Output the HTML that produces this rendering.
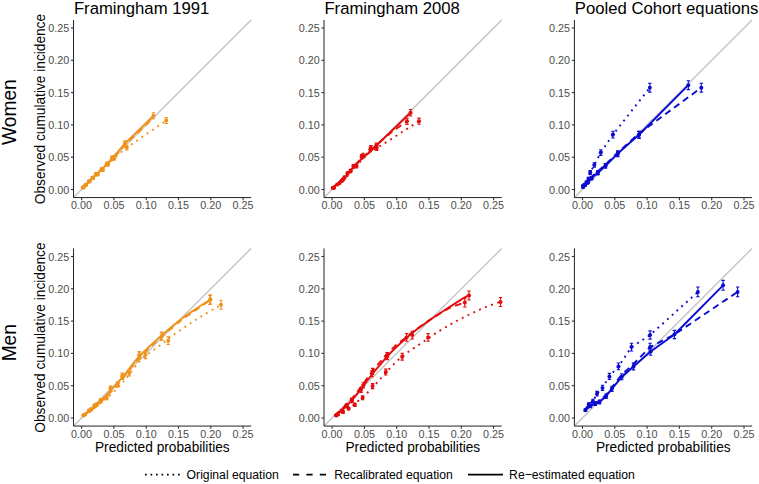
<!DOCTYPE html><html><head><meta charset="utf-8"><style>html,body{margin:0;padding:0;background:#fff;}svg{display:block;}text{font-family:"Liberation Sans",sans-serif;}</style></head><body><svg width="759" height="484" viewBox="0 0 759 484"><rect width="759" height="484" fill="#fff"/><line x1="73.52" y1="197.57" x2="251.17" y2="19.92" stroke="#c2c2c2" stroke-width="1.3"/><path d="M83.54 187.56 L86.12 184.98 L89.67 181.43 L93.23 177.87 L97.75 174.32 L102.92 169.47 L108.09 164.18 L114.22 158.17 L126.82 147.51 L166.23 120.57" fill="none" stroke="#F0931E" stroke-width="1.9" stroke-dasharray="1.9 4.5" stroke-linejoin="round"/><path d="M82.89 187.56 L85.48 184.98 L89.03 181.43 L92.58 177.87 L96.07 174.32 L101.63 169.47 L106.79 164.18 L112.72 159.07 L125.38 144.86 L153.48 117.73" fill="none" stroke="#F0931E" stroke-width="1.9" stroke-dasharray="6.5 4.5" stroke-linejoin="round"/><path d="M82.89 187.56 L85.48 184.98 L89.03 181.43 L92.58 177.87 L96.07 174.32 L101.63 169.47 L106.79 164.18 L112.22 158.17 L125.27 143.12 L153.50 115.79" fill="none" stroke="#F0931E" stroke-width="1.9" stroke-linejoin="round"/><path d="M83.54 187.05V188.08M81.84 187.05H85.24M81.84 188.08H85.24" stroke="#F0931E" stroke-width="1.1" fill="none"/><circle cx="83.54" cy="187.56" r="2.0" fill="#F0931E"/><path d="M86.12 184.19V185.76M84.42 184.19H87.82M84.42 185.76H87.82" stroke="#F0931E" stroke-width="1.1" fill="none"/><circle cx="86.12" cy="184.98" r="2.0" fill="#F0931E"/><path d="M89.67 180.38V182.47M87.97 180.38H91.38M87.97 182.47H91.38" stroke="#F0931E" stroke-width="1.1" fill="none"/><circle cx="89.67" cy="181.43" r="2.0" fill="#F0931E"/><path d="M93.23 176.62V179.13M91.53 176.62H94.93M91.53 179.13H94.93" stroke="#F0931E" stroke-width="1.1" fill="none"/><circle cx="93.23" cy="177.87" r="2.0" fill="#F0931E"/><path d="M97.75 172.89V175.75M96.05 172.89H99.45M96.05 175.75H99.45" stroke="#F0931E" stroke-width="1.1" fill="none"/><circle cx="97.75" cy="174.32" r="2.0" fill="#F0931E"/><path d="M102.92 167.84V171.11M101.22 167.84H104.62M101.22 171.11H104.62" stroke="#F0931E" stroke-width="1.1" fill="none"/><circle cx="102.92" cy="169.47" r="2.0" fill="#F0931E"/><path d="M108.09 162.35V166.01M106.39 162.35H109.79M106.39 166.01H109.79" stroke="#F0931E" stroke-width="1.1" fill="none"/><circle cx="108.09" cy="164.18" r="2.0" fill="#F0931E"/><path d="M114.22 156.14V160.2M112.52 156.14H115.92M112.52 160.2H115.92" stroke="#F0931E" stroke-width="1.1" fill="none"/><circle cx="114.22" cy="158.17" r="2.0" fill="#F0931E"/><path d="M126.82 145.18V149.84M125.12 145.18H128.52M125.12 149.84H128.52" stroke="#F0931E" stroke-width="1.1" fill="none"/><circle cx="126.82" cy="147.51" r="2.0" fill="#F0931E"/><path d="M166.23 117.66V123.49M164.53 117.66H167.93M164.53 123.49H167.93" stroke="#F0931E" stroke-width="1.1" fill="none"/><circle cx="166.23" cy="120.57" r="2.0" fill="#F0931E"/><path d="M82.89 187.05V188.08M81.19 187.05H84.59M81.19 188.08H84.59" stroke="#F0931E" stroke-width="1.1" fill="none"/><circle cx="82.89" cy="187.56" r="2.0" fill="#F0931E"/><path d="M85.48 184.19V185.76M83.78 184.19H87.18M83.78 185.76H87.18" stroke="#F0931E" stroke-width="1.1" fill="none"/><circle cx="85.48" cy="184.98" r="2.0" fill="#F0931E"/><path d="M89.03 180.38V182.47M87.33 180.38H90.73M87.33 182.47H90.73" stroke="#F0931E" stroke-width="1.1" fill="none"/><circle cx="89.03" cy="181.43" r="2.0" fill="#F0931E"/><path d="M92.58 176.62V179.13M90.88 176.62H94.28M90.88 179.13H94.28" stroke="#F0931E" stroke-width="1.1" fill="none"/><circle cx="92.58" cy="177.87" r="2.0" fill="#F0931E"/><path d="M96.07 172.89V175.75M94.37 172.89H97.77M94.37 175.75H97.77" stroke="#F0931E" stroke-width="1.1" fill="none"/><circle cx="96.07" cy="174.32" r="2.0" fill="#F0931E"/><path d="M101.63 167.84V171.11M99.93 167.84H103.33M99.93 171.11H103.33" stroke="#F0931E" stroke-width="1.1" fill="none"/><circle cx="101.63" cy="169.47" r="2.0" fill="#F0931E"/><path d="M106.79 162.35V166.01M105.09 162.35H108.49M105.09 166.01H108.49" stroke="#F0931E" stroke-width="1.1" fill="none"/><circle cx="106.79" cy="164.18" r="2.0" fill="#F0931E"/><path d="M112.22 156.14V160.2M110.52 156.14H113.92M110.52 160.2H113.92" stroke="#F0931E" stroke-width="1.1" fill="none"/><circle cx="112.22" cy="158.17" r="2.0" fill="#F0931E"/><path d="M124.88 141.54V146.37M123.18 141.54H126.58M123.18 146.37H126.58" stroke="#F0931E" stroke-width="1.1" fill="none"/><circle cx="124.88" cy="143.96" r="2.0" fill="#F0931E"/><path d="M82.89 187.05V188.08M81.19 187.05H84.59M81.19 188.08H84.59" stroke="#F0931E" stroke-width="1.1" fill="none"/><circle cx="82.89" cy="187.56" r="2.0" fill="#F0931E"/><path d="M85.48 184.19V185.76M83.78 184.19H87.18M83.78 185.76H87.18" stroke="#F0931E" stroke-width="1.1" fill="none"/><circle cx="85.48" cy="184.98" r="2.0" fill="#F0931E"/><path d="M89.03 180.38V182.47M87.33 180.38H90.73M87.33 182.47H90.73" stroke="#F0931E" stroke-width="1.1" fill="none"/><circle cx="89.03" cy="181.43" r="2.0" fill="#F0931E"/><path d="M92.58 176.62V179.13M90.88 176.62H94.28M90.88 179.13H94.28" stroke="#F0931E" stroke-width="1.1" fill="none"/><circle cx="92.58" cy="177.87" r="2.0" fill="#F0931E"/><path d="M96.07 172.89V175.75M94.37 172.89H97.77M94.37 175.75H97.77" stroke="#F0931E" stroke-width="1.1" fill="none"/><circle cx="96.07" cy="174.32" r="2.0" fill="#F0931E"/><path d="M101.63 167.84V171.11M99.93 167.84H103.33M99.93 171.11H103.33" stroke="#F0931E" stroke-width="1.1" fill="none"/><circle cx="101.63" cy="169.47" r="2.0" fill="#F0931E"/><path d="M106.79 162.35V166.01M105.09 162.35H108.49M105.09 166.01H108.49" stroke="#F0931E" stroke-width="1.1" fill="none"/><circle cx="106.79" cy="164.18" r="2.0" fill="#F0931E"/><path d="M112.22 156.14V160.2M110.52 156.14H113.92M110.52 160.2H113.92" stroke="#F0931E" stroke-width="1.1" fill="none"/><circle cx="112.22" cy="158.17" r="2.0" fill="#F0931E"/><path d="M125.27 140.68V145.55M123.57 140.68H126.97M123.57 145.55H126.97" stroke="#F0931E" stroke-width="1.1" fill="none"/><circle cx="125.27" cy="143.12" r="2.0" fill="#F0931E"/><path d="M153.5 112.79V118.79M151.8 112.79H155.2M151.8 118.79H155.2" stroke="#F0931E" stroke-width="1.1" fill="none"/><circle cx="153.5" cy="115.79" r="2.0" fill="#F0931E"/><path d="M73.52 19.92V197.57H251.17" stroke="#222" stroke-width="1.0" fill="none"/><line x1="81.6" y1="197.57" x2="81.6" y2="200.17" stroke="#333" stroke-width="1.1"/><line x1="70.92" y1="189.5" x2="73.52" y2="189.5" stroke="#333" stroke-width="1.1"/><text transform="translate(81.6 209.17) scale(1 1.04)" font-size="10.8" fill="#4d4d4d" text-anchor="middle">0.00</text><text transform="translate(69.22 193.56) scale(1 1.04)" font-size="10.8" fill="#4d4d4d" text-anchor="end">0.00</text><line x1="113.9" y1="197.57" x2="113.9" y2="200.17" stroke="#333" stroke-width="1.1"/><line x1="70.92" y1="157.2" x2="73.52" y2="157.2" stroke="#333" stroke-width="1.1"/><text transform="translate(113.9 209.17) scale(1 1.04)" font-size="10.8" fill="#4d4d4d" text-anchor="middle">0.05</text><text transform="translate(69.22 161.26) scale(1 1.04)" font-size="10.8" fill="#4d4d4d" text-anchor="end">0.05</text><line x1="146.2" y1="197.57" x2="146.2" y2="200.17" stroke="#333" stroke-width="1.1"/><line x1="70.92" y1="124.9" x2="73.52" y2="124.9" stroke="#333" stroke-width="1.1"/><text transform="translate(146.2 209.17) scale(1 1.04)" font-size="10.8" fill="#4d4d4d" text-anchor="middle">0.10</text><text transform="translate(69.22 128.96) scale(1 1.04)" font-size="10.8" fill="#4d4d4d" text-anchor="end">0.10</text><line x1="178.5" y1="197.57" x2="178.5" y2="200.17" stroke="#333" stroke-width="1.1"/><line x1="70.92" y1="92.6" x2="73.52" y2="92.6" stroke="#333" stroke-width="1.1"/><text transform="translate(178.5 209.17) scale(1 1.04)" font-size="10.8" fill="#4d4d4d" text-anchor="middle">0.15</text><text transform="translate(69.22 96.66) scale(1 1.04)" font-size="10.8" fill="#4d4d4d" text-anchor="end">0.15</text><line x1="210.8" y1="197.57" x2="210.8" y2="200.17" stroke="#333" stroke-width="1.1"/><line x1="70.92" y1="60.3" x2="73.52" y2="60.3" stroke="#333" stroke-width="1.1"/><text transform="translate(210.8 209.17) scale(1 1.04)" font-size="10.8" fill="#4d4d4d" text-anchor="middle">0.20</text><text transform="translate(69.22 64.36) scale(1 1.04)" font-size="10.8" fill="#4d4d4d" text-anchor="end">0.20</text><line x1="243.1" y1="197.57" x2="243.1" y2="200.17" stroke="#333" stroke-width="1.1"/><line x1="70.92" y1="28" x2="73.52" y2="28" stroke="#333" stroke-width="1.1"/><text transform="translate(243.1 209.17) scale(1 1.04)" font-size="10.8" fill="#4d4d4d" text-anchor="middle">0.25</text><text transform="translate(69.22 32.06) scale(1 1.04)" font-size="10.8" fill="#4d4d4d" text-anchor="end">0.25</text><text transform="translate(73.92 13.8) scale(1 1.04)" font-size="16.7" fill="#000">Framingham 1991</text><text transform="translate(44.8 109.05) rotate(-90) scale(1 1.04)" font-size="13.7" fill="#000" text-anchor="middle">Observed cumulative incidence</text><line x1="324.03" y1="197.57" x2="501.68" y2="19.92" stroke="#c2c2c2" stroke-width="1.3"/><path d="M332.00 188.80 L337.90 184.60 L342.60 181.20 L348.50 175.00 L354.40 168.00 L361.80 159.80 L370.00 151.80 L376.80 148.00 L383.50 144.00 L419.00 121.20" fill="none" stroke="#E30B0B" stroke-width="1.9" stroke-dasharray="1.9 4.5" stroke-linejoin="round"/><path d="M331.50 188.60 L337.40 183.80 L347.50 173.80 L353.40 166.80 L360.40 159.30 L368.30 152.40 L377.00 144.60 L386.00 136.60 L394.10 130.20 L407.00 121.30" fill="none" stroke="#E30B0B" stroke-width="1.9" stroke-dasharray="6.5 4.5" stroke-linejoin="round"/><path d="M331.50 189.00 L334.50 186.60 L337.40 184.20 L341.60 180.60 L347.50 174.30 L353.40 167.40 L360.40 159.90 L368.30 153.20 L410.60 112.80" fill="none" stroke="#E30B0B" stroke-width="1.9" stroke-linejoin="round"/><path d="M334 187.52V188.48M332.3 187.52H335.7M332.3 188.48H335.7" stroke="#E30B0B" stroke-width="1.1" fill="none"/><circle cx="334" cy="188" r="2.0" fill="#E30B0B"/><path d="M343 178.26V180.74M341.3 178.26H344.7M341.3 180.74H344.7" stroke="#E30B0B" stroke-width="1.1" fill="none"/><circle cx="343" cy="179.5" r="2.0" fill="#E30B0B"/><path d="M356.5 164.13V167.87M354.8 164.13H358.2M354.8 167.87H358.2" stroke="#E30B0B" stroke-width="1.1" fill="none"/><circle cx="356.5" cy="166" r="2.0" fill="#E30B0B"/><path d="M370.3 146.98V151.82M368.6 146.98H372M368.6 151.82H372" stroke="#E30B0B" stroke-width="1.1" fill="none"/><circle cx="370.3" cy="149.4" r="2.0" fill="#E30B0B"/><path d="M376.8 145.55V150.45M375.1 145.55H378.5M375.1 150.45H378.5" stroke="#E30B0B" stroke-width="1.1" fill="none"/><circle cx="376.8" cy="148" r="2.0" fill="#E30B0B"/><path d="M419 118.12V124.28M417.3 118.12H420.7M417.3 124.28H420.7" stroke="#E30B0B" stroke-width="1.1" fill="none"/><circle cx="419" cy="121.2" r="2.0" fill="#E30B0B"/><path d="M333.5 186.94V188.06M331.8 186.94H335.2M331.8 188.06H335.2" stroke="#E30B0B" stroke-width="1.1" fill="none"/><circle cx="333.5" cy="187.5" r="2.0" fill="#E30B0B"/><path d="M339.5 182V184M337.8 182H341.2M337.8 184H341.2" stroke="#E30B0B" stroke-width="1.1" fill="none"/><circle cx="339.5" cy="183" r="2.0" fill="#E30B0B"/><path d="M350.5 169.33V172.67M348.8 169.33H352.2M348.8 172.67H352.2" stroke="#E30B0B" stroke-width="1.1" fill="none"/><circle cx="350.5" cy="171" r="2.0" fill="#E30B0B"/><path d="M363 153.26V157.74M361.3 153.26H364.7M361.3 157.74H364.7" stroke="#E30B0B" stroke-width="1.1" fill="none"/><circle cx="363" cy="155.5" r="2.0" fill="#E30B0B"/><path d="M376.3 143.08V148.12M374.6 143.08H378M374.6 148.12H378" stroke="#E30B0B" stroke-width="1.1" fill="none"/><circle cx="376.3" cy="145.6" r="2.0" fill="#E30B0B"/><path d="M407 118.22V124.38M405.3 118.22H408.7M405.3 124.38H408.7" stroke="#E30B0B" stroke-width="1.1" fill="none"/><circle cx="407" cy="121.3" r="2.0" fill="#E30B0B"/><path d="M332.7 187.63V188.57M331 187.63H334.4M331 188.57H334.4" stroke="#E30B0B" stroke-width="1.1" fill="none"/><circle cx="332.7" cy="188.1" r="2.0" fill="#E30B0B"/><path d="M337.4 183.62V185.38M335.7 183.62H339.1M335.7 185.38H339.1" stroke="#E30B0B" stroke-width="1.1" fill="none"/><circle cx="337.4" cy="184.5" r="2.0" fill="#E30B0B"/><path d="M341.6 179.86V182.14M339.9 179.86H343.3M339.9 182.14H343.3" stroke="#E30B0B" stroke-width="1.1" fill="none"/><circle cx="341.6" cy="181" r="2.0" fill="#E30B0B"/><path d="M344.5 176.15V178.85M342.8 176.15H346.2M342.8 178.85H346.2" stroke="#E30B0B" stroke-width="1.1" fill="none"/><circle cx="344.5" cy="177.5" r="2.0" fill="#E30B0B"/><path d="M347.5 171.73V174.87M345.8 171.73H349.2M345.8 174.87H349.2" stroke="#E30B0B" stroke-width="1.1" fill="none"/><circle cx="347.5" cy="173.3" r="2.0" fill="#E30B0B"/><path d="M353.4 164.44V168.16M351.7 164.44H355.1M351.7 168.16H355.1" stroke="#E30B0B" stroke-width="1.1" fill="none"/><circle cx="353.4" cy="166.3" r="2.0" fill="#E30B0B"/><path d="M361.6 154.61V158.99M359.9 154.61H363.3M359.9 158.99H363.3" stroke="#E30B0B" stroke-width="1.1" fill="none"/><circle cx="361.6" cy="156.8" r="2.0" fill="#E30B0B"/><path d="M371 145.55V150.45M369.3 145.55H372.7M369.3 150.45H372.7" stroke="#E30B0B" stroke-width="1.1" fill="none"/><circle cx="371" cy="148" r="2.0" fill="#E30B0B"/><path d="M410.6 109.56V116.04M408.9 109.56H412.3M408.9 116.04H412.3" stroke="#E30B0B" stroke-width="1.1" fill="none"/><circle cx="410.6" cy="112.8" r="2.0" fill="#E30B0B"/><path d="M324.03 19.92V197.57H501.68" stroke="#222" stroke-width="1.0" fill="none"/><line x1="332.1" y1="197.57" x2="332.1" y2="200.17" stroke="#333" stroke-width="1.1"/><line x1="321.43" y1="189.5" x2="324.03" y2="189.5" stroke="#333" stroke-width="1.1"/><text transform="translate(332.1 209.17) scale(1 1.04)" font-size="10.8" fill="#4d4d4d" text-anchor="middle">0.00</text><text transform="translate(319.73 193.56) scale(1 1.04)" font-size="10.8" fill="#4d4d4d" text-anchor="end">0.00</text><line x1="364.4" y1="197.57" x2="364.4" y2="200.17" stroke="#333" stroke-width="1.1"/><line x1="321.43" y1="157.2" x2="324.03" y2="157.2" stroke="#333" stroke-width="1.1"/><text transform="translate(364.4 209.17) scale(1 1.04)" font-size="10.8" fill="#4d4d4d" text-anchor="middle">0.05</text><text transform="translate(319.73 161.26) scale(1 1.04)" font-size="10.8" fill="#4d4d4d" text-anchor="end">0.05</text><line x1="396.7" y1="197.57" x2="396.7" y2="200.17" stroke="#333" stroke-width="1.1"/><line x1="321.43" y1="124.9" x2="324.03" y2="124.9" stroke="#333" stroke-width="1.1"/><text transform="translate(396.7 209.17) scale(1 1.04)" font-size="10.8" fill="#4d4d4d" text-anchor="middle">0.10</text><text transform="translate(319.73 128.96) scale(1 1.04)" font-size="10.8" fill="#4d4d4d" text-anchor="end">0.10</text><line x1="429" y1="197.57" x2="429" y2="200.17" stroke="#333" stroke-width="1.1"/><line x1="321.43" y1="92.6" x2="324.03" y2="92.6" stroke="#333" stroke-width="1.1"/><text transform="translate(429 209.17) scale(1 1.04)" font-size="10.8" fill="#4d4d4d" text-anchor="middle">0.15</text><text transform="translate(319.73 96.66) scale(1 1.04)" font-size="10.8" fill="#4d4d4d" text-anchor="end">0.15</text><line x1="461.3" y1="197.57" x2="461.3" y2="200.17" stroke="#333" stroke-width="1.1"/><line x1="321.43" y1="60.3" x2="324.03" y2="60.3" stroke="#333" stroke-width="1.1"/><text transform="translate(461.3 209.17) scale(1 1.04)" font-size="10.8" fill="#4d4d4d" text-anchor="middle">0.20</text><text transform="translate(319.73 64.36) scale(1 1.04)" font-size="10.8" fill="#4d4d4d" text-anchor="end">0.20</text><line x1="493.6" y1="197.57" x2="493.6" y2="200.17" stroke="#333" stroke-width="1.1"/><line x1="321.43" y1="28" x2="324.03" y2="28" stroke="#333" stroke-width="1.1"/><text transform="translate(493.6 209.17) scale(1 1.04)" font-size="10.8" fill="#4d4d4d" text-anchor="middle">0.25</text><text transform="translate(319.73 32.06) scale(1 1.04)" font-size="10.8" fill="#4d4d4d" text-anchor="end">0.25</text><text transform="translate(324.43 13.8) scale(1 1.04)" font-size="16.7" fill="#000">Framingham 2008</text><line x1="574.42" y1="197.57" x2="752.08" y2="19.92" stroke="#c2c2c2" stroke-width="1.3"/><path d="M583.02 185.88 L584.44 184.66 L586.38 182.39 L588.44 178.84 L590.19 172.57 L594.32 165.02 L600.78 152.61 L612.99 134.59 L649.81 87.69" fill="none" stroke="#0A0AD2" stroke-width="1.9" stroke-dasharray="1.9 4.5" stroke-linejoin="round"/><path d="M583.15 186.92 L585.08 184.98 L587.67 182.39 L591.08 177.23 L597.35 171.80 L605.10 164.83 L617.31 153.07 L638.62 133.82 L701.30 87.69" fill="none" stroke="#0A0AD2" stroke-width="1.9" stroke-dasharray="6.5 4.5" stroke-linejoin="round"/><path d="M583.15 186.92 L585.08 184.98 L587.67 182.39 L591.48 178.13 L597.75 172.70 L605.50 165.73 L617.71 153.58 L639.02 134.72 L688.31 85.17" fill="none" stroke="#0A0AD2" stroke-width="1.9" stroke-linejoin="round"/><path d="M583.02 184.98V186.78M581.32 184.98H584.72M581.32 186.78H584.72" stroke="#0A0AD2" stroke-width="1.1" fill="none"/><circle cx="583.02" cy="185.88" r="2.0" fill="#0A0AD2"/><path d="M584.44 183.61V185.7M582.74 183.61H586.14M582.74 185.7H586.14" stroke="#0A0AD2" stroke-width="1.1" fill="none"/><circle cx="584.44" cy="184.66" r="2.0" fill="#0A0AD2"/><path d="M586.38 181.13V183.65M584.68 181.13H588.08M584.68 183.65H588.08" stroke="#0A0AD2" stroke-width="1.1" fill="none"/><circle cx="586.38" cy="182.39" r="2.0" fill="#0A0AD2"/><path d="M588.44 177.3V180.38M586.74 177.3H590.14M586.74 180.38H590.14" stroke="#0A0AD2" stroke-width="1.1" fill="none"/><circle cx="588.44" cy="178.84" r="2.0" fill="#0A0AD2"/><path d="M590.19 170.65V174.5M588.49 170.65H591.89M588.49 174.5H591.89" stroke="#0A0AD2" stroke-width="1.1" fill="none"/><circle cx="590.19" cy="172.57" r="2.0" fill="#0A0AD2"/><path d="M594.32 162.71V167.32M592.62 162.71H596.02M592.62 167.32H596.02" stroke="#0A0AD2" stroke-width="1.1" fill="none"/><circle cx="594.32" cy="165.02" r="2.0" fill="#0A0AD2"/><path d="M600.78 149.81V155.41M599.08 149.81H602.48M599.08 155.41H602.48" stroke="#0A0AD2" stroke-width="1.1" fill="none"/><circle cx="600.78" cy="152.61" r="2.0" fill="#0A0AD2"/><path d="M612.99 131.22V137.96M611.29 131.22H614.69M611.29 137.96H614.69" stroke="#0A0AD2" stroke-width="1.1" fill="none"/><circle cx="612.99" cy="134.59" r="2.0" fill="#0A0AD2"/><path d="M649.81 83.29V92.09M648.11 83.29H651.51M648.11 92.09H651.51" stroke="#0A0AD2" stroke-width="1.1" fill="none"/><circle cx="649.81" cy="87.69" r="2.0" fill="#0A0AD2"/><path d="M583.15 186.15V187.68M581.45 186.15H584.85M581.45 187.68H584.85" stroke="#0A0AD2" stroke-width="1.1" fill="none"/><circle cx="583.15" cy="186.92" r="2.0" fill="#0A0AD2"/><path d="M585.08 183.97V185.98M583.38 183.97H586.78M583.38 185.98H586.78" stroke="#0A0AD2" stroke-width="1.1" fill="none"/><circle cx="585.08" cy="184.98" r="2.0" fill="#0A0AD2"/><path d="M587.67 181.13V183.65M585.97 181.13H589.37M585.97 183.65H589.37" stroke="#0A0AD2" stroke-width="1.1" fill="none"/><circle cx="587.67" cy="182.39" r="2.0" fill="#0A0AD2"/><path d="M591.48 176.54V179.72M589.78 176.54H593.18M589.78 179.72H593.18" stroke="#0A0AD2" stroke-width="1.1" fill="none"/><circle cx="591.48" cy="178.13" r="2.0" fill="#0A0AD2"/><path d="M597.75 170.78V174.63M596.05 170.78H599.45M596.05 174.63H599.45" stroke="#0A0AD2" stroke-width="1.1" fill="none"/><circle cx="597.75" cy="172.7" r="2.0" fill="#0A0AD2"/><path d="M605.5 163.45V168M603.8 163.45H607.2M603.8 168H607.2" stroke="#0A0AD2" stroke-width="1.1" fill="none"/><circle cx="605.5" cy="165.73" r="2.0" fill="#0A0AD2"/><path d="M617.71 151.22V156.72M616.01 151.22H619.41M616.01 156.72H619.41" stroke="#0A0AD2" stroke-width="1.1" fill="none"/><circle cx="617.71" cy="153.97" r="2.0" fill="#0A0AD2"/><path d="M639.02 131.36V138.08M637.32 131.36H640.73M637.32 138.08H640.73" stroke="#0A0AD2" stroke-width="1.1" fill="none"/><circle cx="639.02" cy="134.72" r="2.0" fill="#0A0AD2"/><path d="M701.3 83.29V92.09M699.6 83.29H703M699.6 92.09H703" stroke="#0A0AD2" stroke-width="1.1" fill="none"/><circle cx="701.3" cy="87.69" r="2.0" fill="#0A0AD2"/><path d="M583.15 186.15V187.68M581.45 186.15H584.85M581.45 187.68H584.85" stroke="#0A0AD2" stroke-width="1.1" fill="none"/><circle cx="583.15" cy="186.92" r="2.0" fill="#0A0AD2"/><path d="M585.08 183.97V185.98M583.38 183.97H586.78M583.38 185.98H586.78" stroke="#0A0AD2" stroke-width="1.1" fill="none"/><circle cx="585.08" cy="184.98" r="2.0" fill="#0A0AD2"/><path d="M587.67 181.13V183.65M585.97 181.13H589.37M585.97 183.65H589.37" stroke="#0A0AD2" stroke-width="1.1" fill="none"/><circle cx="587.67" cy="182.39" r="2.0" fill="#0A0AD2"/><path d="M591.48 176.54V179.72M589.78 176.54H593.18M589.78 179.72H593.18" stroke="#0A0AD2" stroke-width="1.1" fill="none"/><circle cx="591.48" cy="178.13" r="2.0" fill="#0A0AD2"/><path d="M597.75 170.78V174.63M596.05 170.78H599.45M596.05 174.63H599.45" stroke="#0A0AD2" stroke-width="1.1" fill="none"/><circle cx="597.75" cy="172.7" r="2.0" fill="#0A0AD2"/><path d="M605.5 163.45V168M603.8 163.45H607.2M603.8 168H607.2" stroke="#0A0AD2" stroke-width="1.1" fill="none"/><circle cx="605.5" cy="165.73" r="2.0" fill="#0A0AD2"/><path d="M617.71 150.82V156.35M616.01 150.82H619.41M616.01 156.35H619.41" stroke="#0A0AD2" stroke-width="1.1" fill="none"/><circle cx="617.71" cy="153.58" r="2.0" fill="#0A0AD2"/><path d="M639.02 131.36V138.08M637.32 131.36H640.73M637.32 138.08H640.73" stroke="#0A0AD2" stroke-width="1.1" fill="none"/><circle cx="639.02" cy="134.72" r="2.0" fill="#0A0AD2"/><path d="M688.31 80.73V89.61M686.61 80.73H690.01M686.61 89.61H690.01" stroke="#0A0AD2" stroke-width="1.1" fill="none"/><circle cx="688.31" cy="85.17" r="2.0" fill="#0A0AD2"/><path d="M574.42 19.92V197.57H752.08" stroke="#222" stroke-width="1.0" fill="none"/><line x1="582.5" y1="197.57" x2="582.5" y2="200.17" stroke="#333" stroke-width="1.1"/><line x1="571.82" y1="189.5" x2="574.42" y2="189.5" stroke="#333" stroke-width="1.1"/><text transform="translate(582.5 209.17) scale(1 1.04)" font-size="10.8" fill="#4d4d4d" text-anchor="middle">0.00</text><text transform="translate(570.12 193.56) scale(1 1.04)" font-size="10.8" fill="#4d4d4d" text-anchor="end">0.00</text><line x1="614.8" y1="197.57" x2="614.8" y2="200.17" stroke="#333" stroke-width="1.1"/><line x1="571.82" y1="157.2" x2="574.42" y2="157.2" stroke="#333" stroke-width="1.1"/><text transform="translate(614.8 209.17) scale(1 1.04)" font-size="10.8" fill="#4d4d4d" text-anchor="middle">0.05</text><text transform="translate(570.12 161.26) scale(1 1.04)" font-size="10.8" fill="#4d4d4d" text-anchor="end">0.05</text><line x1="647.1" y1="197.57" x2="647.1" y2="200.17" stroke="#333" stroke-width="1.1"/><line x1="571.82" y1="124.9" x2="574.42" y2="124.9" stroke="#333" stroke-width="1.1"/><text transform="translate(647.1 209.17) scale(1 1.04)" font-size="10.8" fill="#4d4d4d" text-anchor="middle">0.10</text><text transform="translate(570.12 128.96) scale(1 1.04)" font-size="10.8" fill="#4d4d4d" text-anchor="end">0.10</text><line x1="679.4" y1="197.57" x2="679.4" y2="200.17" stroke="#333" stroke-width="1.1"/><line x1="571.82" y1="92.6" x2="574.42" y2="92.6" stroke="#333" stroke-width="1.1"/><text transform="translate(679.4 209.17) scale(1 1.04)" font-size="10.8" fill="#4d4d4d" text-anchor="middle">0.15</text><text transform="translate(570.12 96.66) scale(1 1.04)" font-size="10.8" fill="#4d4d4d" text-anchor="end">0.15</text><line x1="711.7" y1="197.57" x2="711.7" y2="200.17" stroke="#333" stroke-width="1.1"/><line x1="571.82" y1="60.3" x2="574.42" y2="60.3" stroke="#333" stroke-width="1.1"/><text transform="translate(711.7 209.17) scale(1 1.04)" font-size="10.8" fill="#4d4d4d" text-anchor="middle">0.20</text><text transform="translate(570.12 64.36) scale(1 1.04)" font-size="10.8" fill="#4d4d4d" text-anchor="end">0.20</text><line x1="744" y1="197.57" x2="744" y2="200.17" stroke="#333" stroke-width="1.1"/><line x1="571.82" y1="28" x2="574.42" y2="28" stroke="#333" stroke-width="1.1"/><text transform="translate(744 209.17) scale(1 1.04)" font-size="10.8" fill="#4d4d4d" text-anchor="middle">0.25</text><text transform="translate(570.12 32.06) scale(1 1.04)" font-size="10.8" fill="#4d4d4d" text-anchor="end">0.25</text><text transform="translate(574.82 13.8) scale(1 1.04)" font-size="16.7" fill="#000">Pooled Cohort equations</text><line x1="73.52" y1="426.07" x2="251.17" y2="248.43" stroke="#c2c2c2" stroke-width="1.3"/><path d="M84.00 415.50 C85.50 414.25 89.25 410.82 93.00 408.00 C96.75 405.18 101.78 402.60 106.50 398.60 C111.22 394.60 117.22 388.43 121.30 384.00 C125.38 379.57 127.88 375.83 131.00 372.00 C134.12 368.17 136.82 364.25 140.00 361.00 C143.18 357.75 146.60 355.22 150.10 352.50 C153.60 349.78 157.50 347.35 161.00 344.70 C164.50 342.05 167.60 339.20 171.10 336.60 C174.60 334.00 178.38 331.57 182.00 329.10 C185.62 326.63 189.18 324.17 192.80 321.80 C196.42 319.43 200.00 317.13 203.70 314.90 C207.40 312.67 212.12 310.08 215.00 308.40 C217.88 306.72 220.00 305.40 221.00 304.80" fill="none" stroke="#F0931E" stroke-width="1.9" stroke-dasharray="1.9 4.5" stroke-linejoin="round"/><path d="M82.80 416.60 C83.75 415.88 86.33 413.93 88.50 412.30 C90.67 410.67 93.47 408.78 95.80 406.80 C98.13 404.82 100.02 402.85 102.50 400.40 C104.98 397.95 107.17 395.95 110.70 392.10 C114.23 388.25 119.02 382.88 123.70 377.30 C128.38 371.72 133.55 364.38 138.80 358.60 C144.05 352.82 149.72 347.67 155.20 342.60 C160.68 337.53 166.90 332.25 171.70 328.20 C176.50 324.15 179.70 321.52 184.00 318.30 C188.30 315.08 193.20 311.90 197.50 308.90 C201.80 305.90 207.75 301.73 209.80 300.30" fill="none" stroke="#F0931E" stroke-width="1.9" stroke-dasharray="6.5 4.5" stroke-linejoin="round"/><path d="M82.30 415.80 C83.25 415.08 85.83 413.13 88.00 411.50 C90.17 409.87 92.97 408.00 95.30 406.00 C97.63 404.00 99.52 401.97 102.00 399.50 C104.48 397.03 106.67 395.07 110.20 391.20 C113.73 387.33 118.52 381.92 123.20 376.30 C127.88 370.68 133.03 363.30 138.30 357.50 C143.57 351.70 149.27 346.58 154.80 341.50 C160.33 336.42 166.63 331.08 171.50 327.00 C176.37 322.92 179.60 320.23 184.00 317.00 C188.40 313.77 193.48 310.52 197.90 307.60 C202.32 304.68 208.40 300.85 210.50 299.50" fill="none" stroke="#F0931E" stroke-width="1.9" stroke-linejoin="round"/><path d="M85 413.63V415.37M83.3 413.63H86.7M83.3 415.37H86.7" stroke="#F0931E" stroke-width="1.1" fill="none"/><circle cx="85" cy="414.5" r="2.0" fill="#F0931E"/><path d="M91 408.15V410.85M89.3 408.15H92.7M89.3 410.85H92.7" stroke="#F0931E" stroke-width="1.1" fill="none"/><circle cx="91" cy="409.5" r="2.0" fill="#F0931E"/><path d="M97 402.81V406.19M95.3 402.81H98.7M95.3 406.19H98.7" stroke="#F0931E" stroke-width="1.1" fill="none"/><circle cx="97" cy="404.5" r="2.0" fill="#F0931E"/><path d="M106.7 395.64V399.76M105 395.64H108.4M105 399.76H108.4" stroke="#F0931E" stroke-width="1.1" fill="none"/><circle cx="106.7" cy="397.7" r="2.0" fill="#F0931E"/><path d="M117.5 381.88V387.12M115.8 381.88H119.2M115.8 387.12H119.2" stroke="#F0931E" stroke-width="1.1" fill="none"/><circle cx="117.5" cy="384.5" r="2.0" fill="#F0931E"/><path d="M129.2 369.89V375.91M127.5 369.89H130.9M127.5 375.91H130.9" stroke="#F0931E" stroke-width="1.1" fill="none"/><circle cx="129.2" cy="372.9" r="2.0" fill="#F0931E"/><path d="M145.5 351.6V358.6M143.8 351.6H147.2M143.8 358.6H147.2" stroke="#F0931E" stroke-width="1.1" fill="none"/><circle cx="145.5" cy="355.1" r="2.0" fill="#F0931E"/><path d="M168.2 336.87V344.53M166.5 336.87H169.9M166.5 344.53H169.9" stroke="#F0931E" stroke-width="1.1" fill="none"/><circle cx="168.2" cy="340.7" r="2.0" fill="#F0931E"/><path d="M221 300.31V309.29M219.3 300.31H222.7M219.3 309.29H222.7" stroke="#F0931E" stroke-width="1.1" fill="none"/><circle cx="221" cy="304.8" r="2.0" fill="#F0931E"/><path d="M83.8 414.2V415.8M82.1 414.2H85.5M82.1 415.8H85.5" stroke="#F0931E" stroke-width="1.1" fill="none"/><circle cx="83.8" cy="415" r="2.0" fill="#F0931E"/><path d="M89.5 409.24V411.76M87.8 409.24H91.2M87.8 411.76H91.2" stroke="#F0931E" stroke-width="1.1" fill="none"/><circle cx="89.5" cy="410.5" r="2.0" fill="#F0931E"/><path d="M95 403.87V407.13M93.3 403.87H96.7M93.3 407.13H96.7" stroke="#F0931E" stroke-width="1.1" fill="none"/><circle cx="95" cy="405.5" r="2.0" fill="#F0931E"/><path d="M101 398.58V402.42M99.3 398.58H102.7M99.3 402.42H102.7" stroke="#F0931E" stroke-width="1.1" fill="none"/><circle cx="101" cy="400.5" r="2.0" fill="#F0931E"/><path d="M110.6 386.56V391.44M108.9 386.56H112.3M108.9 391.44H112.3" stroke="#F0931E" stroke-width="1.1" fill="none"/><circle cx="110.6" cy="389" r="2.0" fill="#F0931E"/><path d="M122.5 373.61V379.39M120.8 373.61H124.2M120.8 379.39H124.2" stroke="#F0931E" stroke-width="1.1" fill="none"/><circle cx="122.5" cy="376.5" r="2.0" fill="#F0931E"/><path d="M139.5 352.01V358.99M137.8 352.01H141.2M137.8 358.99H141.2" stroke="#F0931E" stroke-width="1.1" fill="none"/><circle cx="139.5" cy="355.5" r="2.0" fill="#F0931E"/><path d="M161.5 332.58V340.42M159.8 332.58H163.2M159.8 340.42H163.2" stroke="#F0931E" stroke-width="1.1" fill="none"/><circle cx="161.5" cy="336.5" r="2.0" fill="#F0931E"/><path d="M209.8 295.44V304.56M208.1 295.44H211.5M208.1 304.56H211.5" stroke="#F0931E" stroke-width="1.1" fill="none"/><circle cx="209.8" cy="300" r="2.0" fill="#F0931E"/><path d="M83.4 414.77V416.23M81.7 414.77H85.1M81.7 416.23H85.1" stroke="#F0931E" stroke-width="1.1" fill="none"/><circle cx="83.4" cy="415.5" r="2.0" fill="#F0931E"/><path d="M88.9 409.67V412.13M87.2 409.67H90.6M87.2 412.13H90.6" stroke="#F0931E" stroke-width="1.1" fill="none"/><circle cx="88.9" cy="410.9" r="2.0" fill="#F0931E"/><path d="M94.3 404.62V407.78M92.6 404.62H96M92.6 407.78H96" stroke="#F0931E" stroke-width="1.1" fill="none"/><circle cx="94.3" cy="406.2" r="2.0" fill="#F0931E"/><path d="M100.5 399.11V402.89M98.8 399.11H102.2M98.8 402.89H102.2" stroke="#F0931E" stroke-width="1.1" fill="none"/><circle cx="100.5" cy="401" r="2.0" fill="#F0931E"/><path d="M110.6 385.93V390.87M108.9 385.93H112.3M108.9 390.87H112.3" stroke="#F0931E" stroke-width="1.1" fill="none"/><circle cx="110.6" cy="388.4" r="2.0" fill="#F0931E"/><path d="M122.2 373.09V378.91M120.5 373.09H123.9M120.5 378.91H123.9" stroke="#F0931E" stroke-width="1.1" fill="none"/><circle cx="122.2" cy="376" r="2.0" fill="#F0931E"/><path d="M139.2 351.6V358.6M137.5 351.6H140.9M137.5 358.6H140.9" stroke="#F0931E" stroke-width="1.1" fill="none"/><circle cx="139.2" cy="355.1" r="2.0" fill="#F0931E"/><path d="M161.7 332.07V339.93M160 332.07H163.4M160 339.93H163.4" stroke="#F0931E" stroke-width="1.1" fill="none"/><circle cx="161.7" cy="336" r="2.0" fill="#F0931E"/><path d="M210.5 294.83V303.97M208.8 294.83H212.2M208.8 303.97H212.2" stroke="#F0931E" stroke-width="1.1" fill="none"/><circle cx="210.5" cy="299.4" r="2.0" fill="#F0931E"/><path d="M73.52 248.43V426.07H251.17" stroke="#222" stroke-width="1.0" fill="none"/><line x1="81.6" y1="426.07" x2="81.6" y2="428.68" stroke="#333" stroke-width="1.1"/><line x1="70.92" y1="418" x2="73.52" y2="418" stroke="#333" stroke-width="1.1"/><text transform="translate(81.6 437.68) scale(1 1.04)" font-size="10.8" fill="#4d4d4d" text-anchor="middle">0.00</text><text transform="translate(69.22 422.06) scale(1 1.04)" font-size="10.8" fill="#4d4d4d" text-anchor="end">0.00</text><line x1="113.9" y1="426.07" x2="113.9" y2="428.68" stroke="#333" stroke-width="1.1"/><line x1="70.92" y1="385.7" x2="73.52" y2="385.7" stroke="#333" stroke-width="1.1"/><text transform="translate(113.9 437.68) scale(1 1.04)" font-size="10.8" fill="#4d4d4d" text-anchor="middle">0.05</text><text transform="translate(69.22 389.76) scale(1 1.04)" font-size="10.8" fill="#4d4d4d" text-anchor="end">0.05</text><line x1="146.2" y1="426.07" x2="146.2" y2="428.68" stroke="#333" stroke-width="1.1"/><line x1="70.92" y1="353.4" x2="73.52" y2="353.4" stroke="#333" stroke-width="1.1"/><text transform="translate(146.2 437.68) scale(1 1.04)" font-size="10.8" fill="#4d4d4d" text-anchor="middle">0.10</text><text transform="translate(69.22 357.46) scale(1 1.04)" font-size="10.8" fill="#4d4d4d" text-anchor="end">0.10</text><line x1="178.5" y1="426.07" x2="178.5" y2="428.68" stroke="#333" stroke-width="1.1"/><line x1="70.92" y1="321.1" x2="73.52" y2="321.1" stroke="#333" stroke-width="1.1"/><text transform="translate(178.5 437.68) scale(1 1.04)" font-size="10.8" fill="#4d4d4d" text-anchor="middle">0.15</text><text transform="translate(69.22 325.16) scale(1 1.04)" font-size="10.8" fill="#4d4d4d" text-anchor="end">0.15</text><line x1="210.8" y1="426.07" x2="210.8" y2="428.68" stroke="#333" stroke-width="1.1"/><line x1="70.92" y1="288.8" x2="73.52" y2="288.8" stroke="#333" stroke-width="1.1"/><text transform="translate(210.8 437.68) scale(1 1.04)" font-size="10.8" fill="#4d4d4d" text-anchor="middle">0.20</text><text transform="translate(69.22 292.86) scale(1 1.04)" font-size="10.8" fill="#4d4d4d" text-anchor="end">0.20</text><line x1="243.1" y1="426.07" x2="243.1" y2="428.68" stroke="#333" stroke-width="1.1"/><line x1="70.92" y1="256.5" x2="73.52" y2="256.5" stroke="#333" stroke-width="1.1"/><text transform="translate(243.1 437.68) scale(1 1.04)" font-size="10.8" fill="#4d4d4d" text-anchor="middle">0.25</text><text transform="translate(69.22 260.56) scale(1 1.04)" font-size="10.8" fill="#4d4d4d" text-anchor="end">0.25</text><text transform="translate(162.35 451.8) scale(1 1.04)" font-size="13.7" fill="#000" text-anchor="middle">Predicted probabilities</text><text transform="translate(44.8 337.55) rotate(-90) scale(1 1.04)" font-size="13.7" fill="#000" text-anchor="middle">Observed cumulative incidence</text><line x1="324.03" y1="426.07" x2="501.68" y2="248.43" stroke="#c2c2c2" stroke-width="1.3"/><path d="M342.60 413.50 C343.60 412.75 346.57 410.58 348.60 409.00 C350.63 407.42 352.47 406.00 354.80 404.00 C357.13 402.00 360.15 399.22 362.60 397.00 C365.05 394.78 366.92 393.30 369.50 390.70 C372.08 388.10 375.27 384.52 378.10 381.40 C380.93 378.28 383.53 375.23 386.50 372.00 C389.47 368.77 392.65 365.08 395.90 362.00 C399.15 358.92 402.48 356.17 406.00 353.50 C409.52 350.83 413.35 348.47 417.00 346.00 C420.65 343.53 424.45 341.03 427.90 338.70 C431.35 336.37 434.13 334.27 437.70 332.00 C441.27 329.73 445.52 327.27 449.30 325.10 C453.08 322.93 456.58 321.00 460.40 319.00 C464.22 317.00 468.27 314.97 472.20 313.10 C476.13 311.23 479.97 309.45 484.00 307.80 C488.03 306.15 493.65 304.17 496.40 303.20 C499.15 302.23 499.82 302.20 500.50 302.00" fill="none" stroke="#E30B0B" stroke-width="1.9" stroke-dasharray="1.9 4.5" stroke-linejoin="round"/><path d="M334.50 415.50 C336.25 413.92 341.70 409.28 345.00 406.00 C348.30 402.72 351.47 399.22 354.30 395.80 C357.13 392.38 359.22 389.30 362.00 385.50 C364.78 381.70 368.00 376.92 371.00 373.00 C374.00 369.08 377.33 365.17 380.00 362.00 C382.67 358.83 384.33 356.80 387.00 354.00 C389.67 351.20 392.73 348.03 396.00 345.20 C399.27 342.37 403.43 339.50 406.60 337.00 C409.77 334.50 411.88 332.53 415.00 330.20 C418.12 327.87 421.85 325.33 425.30 323.00 C428.75 320.67 431.73 318.67 435.70 316.20 C439.67 313.73 446.00 309.87 449.10 308.20 C452.20 306.53 452.32 306.97 454.30 306.20 C456.28 305.43 459.25 304.20 461.00 303.60 C462.75 303.00 464.17 302.77 464.80 302.60" fill="none" stroke="#E30B0B" stroke-width="1.9" stroke-dasharray="6.5 4.5" stroke-linejoin="round"/><path d="M334.70 416.30 C336.50 414.75 342.15 410.22 345.50 407.00 C348.85 403.78 351.95 400.35 354.80 397.00 C357.65 393.65 359.75 390.65 362.60 386.90 C365.45 383.15 368.80 378.38 371.90 374.50 C375.00 370.62 378.52 366.77 381.20 363.60 C383.88 360.43 385.37 358.35 388.00 355.50 C390.63 352.65 393.90 349.45 397.00 346.50 C400.10 343.55 403.60 340.42 406.60 337.80 C409.60 335.18 411.88 333.23 415.00 330.80 C418.12 328.37 421.85 325.67 425.30 323.20 C428.75 320.73 432.25 318.32 435.70 316.00 C439.15 313.68 442.57 311.53 446.00 309.30 C449.43 307.07 452.55 304.93 456.30 302.60 C460.05 300.27 466.47 296.52 468.50 295.30" fill="none" stroke="#E30B0B" stroke-width="1.9" stroke-linejoin="round"/><path d="M338 413.65V415.35M336.3 413.65H339.7M336.3 415.35H339.7" stroke="#E30B0B" stroke-width="1.1" fill="none"/><circle cx="338" cy="414.5" r="2.0" fill="#E30B0B"/><path d="M343 410.89V413.11M341.3 410.89H344.7M341.3 413.11H344.7" stroke="#E30B0B" stroke-width="1.1" fill="none"/><circle cx="343" cy="412" r="2.0" fill="#E30B0B"/><path d="M348.6 407.22V409.98M346.9 407.22H350.3M346.9 409.98H350.3" stroke="#E30B0B" stroke-width="1.1" fill="none"/><circle cx="348.6" cy="408.6" r="2.0" fill="#E30B0B"/><path d="M354.8 403.06V406.34M353.1 403.06H356.5M353.1 406.34H356.5" stroke="#E30B0B" stroke-width="1.1" fill="none"/><circle cx="354.8" cy="404.7" r="2.0" fill="#E30B0B"/><path d="M362.6 395.68V399.72M360.9 395.68H364.3M360.9 399.72H364.3" stroke="#E30B0B" stroke-width="1.1" fill="none"/><circle cx="362.6" cy="397.7" r="2.0" fill="#E30B0B"/><path d="M372.6 383.6V388.6M370.9 383.6H374.3M370.9 388.6H374.3" stroke="#E30B0B" stroke-width="1.1" fill="none"/><circle cx="372.6" cy="386.1" r="2.0" fill="#E30B0B"/><path d="M385.8 369.13V375.07M384.1 369.13H387.5M384.1 375.07H387.5" stroke="#E30B0B" stroke-width="1.1" fill="none"/><circle cx="385.8" cy="372.1" r="2.0" fill="#E30B0B"/><path d="M402.2 353.31V360.09M400.5 353.31H403.9M400.5 360.09H403.9" stroke="#E30B0B" stroke-width="1.1" fill="none"/><circle cx="402.2" cy="356.7" r="2.0" fill="#E30B0B"/><path d="M428.1 333.58V341.22M426.4 333.58H429.8M426.4 341.22H429.8" stroke="#E30B0B" stroke-width="1.1" fill="none"/><circle cx="428.1" cy="337.4" r="2.0" fill="#E30B0B"/><path d="M500.5 297.56V306.44M498.8 297.56H502.2M498.8 306.44H502.2" stroke="#E30B0B" stroke-width="1.1" fill="none"/><circle cx="500.5" cy="302" r="2.0" fill="#E30B0B"/><path d="M336.5 414.21V415.79M334.8 414.21H338.2M334.8 415.79H338.2" stroke="#E30B0B" stroke-width="1.1" fill="none"/><circle cx="336.5" cy="415" r="2.0" fill="#E30B0B"/><path d="M342 409.26V411.74M340.3 409.26H343.7M340.3 411.74H343.7" stroke="#E30B0B" stroke-width="1.1" fill="none"/><circle cx="342" cy="410.5" r="2.0" fill="#E30B0B"/><path d="M346.8 403.91V407.09M345.1 403.91H348.5M345.1 407.09H348.5" stroke="#E30B0B" stroke-width="1.1" fill="none"/><circle cx="346.8" cy="405.5" r="2.0" fill="#E30B0B"/><path d="M352 398.1V401.9M350.3 398.1H353.7M350.3 401.9H353.7" stroke="#E30B0B" stroke-width="1.1" fill="none"/><circle cx="352" cy="400" r="2.0" fill="#E30B0B"/><path d="M363.3 382.77V387.83M361.6 382.77H365M361.6 387.83H365" stroke="#E30B0B" stroke-width="1.1" fill="none"/><circle cx="363.3" cy="385.3" r="2.0" fill="#E30B0B"/><path d="M372.6 368.41V374.39M370.9 368.41H374.3M370.9 374.39H374.3" stroke="#E30B0B" stroke-width="1.1" fill="none"/><circle cx="372.6" cy="371.4" r="2.0" fill="#E30B0B"/><path d="M387 352.8V359.6M385.3 352.8H388.7M385.3 359.6H388.7" stroke="#E30B0B" stroke-width="1.1" fill="none"/><circle cx="387" cy="356.2" r="2.0" fill="#E30B0B"/><path d="M412.3 331.23V338.97M410.6 331.23H414M410.6 338.97H414" stroke="#E30B0B" stroke-width="1.1" fill="none"/><circle cx="412.3" cy="335.1" r="2.0" fill="#E30B0B"/><path d="M464.8 298.17V307.03M463.1 298.17H466.5M463.1 307.03H466.5" stroke="#E30B0B" stroke-width="1.1" fill="none"/><circle cx="464.8" cy="302.6" r="2.0" fill="#E30B0B"/><path d="M336.2 414.78V416.22M334.5 414.78H337.9M334.5 416.22H337.9" stroke="#E30B0B" stroke-width="1.1" fill="none"/><circle cx="336.2" cy="415.5" r="2.0" fill="#E30B0B"/><path d="M341.6 409.69V412.11M339.9 409.69H343.3M339.9 412.11H343.3" stroke="#E30B0B" stroke-width="1.1" fill="none"/><circle cx="341.6" cy="410.9" r="2.0" fill="#E30B0B"/><path d="M346.3 404.65V407.75M344.6 404.65H348M344.6 407.75H348" stroke="#E30B0B" stroke-width="1.1" fill="none"/><circle cx="346.3" cy="406.2" r="2.0" fill="#E30B0B"/><path d="M351.7 398.94V402.66M350 398.94H353.4M350 402.66H353.4" stroke="#E30B0B" stroke-width="1.1" fill="none"/><circle cx="351.7" cy="400.8" r="2.0" fill="#E30B0B"/><path d="M361 387.65V392.35M359.3 387.65H362.7M359.3 392.35H362.7" stroke="#E30B0B" stroke-width="1.1" fill="none"/><circle cx="361" cy="390" r="2.0" fill="#E30B0B"/><path d="M371.9 370.78V376.62M370.2 370.78H373.6M370.2 376.62H373.6" stroke="#E30B0B" stroke-width="1.1" fill="none"/><circle cx="371.9" cy="373.7" r="2.0" fill="#E30B0B"/><path d="M387.4 352.49V359.31M385.7 352.49H389.1M385.7 359.31H389.1" stroke="#E30B0B" stroke-width="1.1" fill="none"/><circle cx="387.4" cy="355.9" r="2.0" fill="#E30B0B"/><path d="M406.6 333.58V341.22M404.9 333.58H408.3M404.9 341.22H408.3" stroke="#E30B0B" stroke-width="1.1" fill="none"/><circle cx="406.6" cy="337.4" r="2.0" fill="#E30B0B"/><path d="M469 290.97V300.03M467.3 290.97H470.7M467.3 300.03H470.7" stroke="#E30B0B" stroke-width="1.1" fill="none"/><circle cx="469" cy="295.5" r="2.0" fill="#E30B0B"/><path d="M324.03 248.43V426.07H501.68" stroke="#222" stroke-width="1.0" fill="none"/><line x1="332.1" y1="426.07" x2="332.1" y2="428.68" stroke="#333" stroke-width="1.1"/><line x1="321.43" y1="418" x2="324.03" y2="418" stroke="#333" stroke-width="1.1"/><text transform="translate(332.1 437.68) scale(1 1.04)" font-size="10.8" fill="#4d4d4d" text-anchor="middle">0.00</text><text transform="translate(319.73 422.06) scale(1 1.04)" font-size="10.8" fill="#4d4d4d" text-anchor="end">0.00</text><line x1="364.4" y1="426.07" x2="364.4" y2="428.68" stroke="#333" stroke-width="1.1"/><line x1="321.43" y1="385.7" x2="324.03" y2="385.7" stroke="#333" stroke-width="1.1"/><text transform="translate(364.4 437.68) scale(1 1.04)" font-size="10.8" fill="#4d4d4d" text-anchor="middle">0.05</text><text transform="translate(319.73 389.76) scale(1 1.04)" font-size="10.8" fill="#4d4d4d" text-anchor="end">0.05</text><line x1="396.7" y1="426.07" x2="396.7" y2="428.68" stroke="#333" stroke-width="1.1"/><line x1="321.43" y1="353.4" x2="324.03" y2="353.4" stroke="#333" stroke-width="1.1"/><text transform="translate(396.7 437.68) scale(1 1.04)" font-size="10.8" fill="#4d4d4d" text-anchor="middle">0.10</text><text transform="translate(319.73 357.46) scale(1 1.04)" font-size="10.8" fill="#4d4d4d" text-anchor="end">0.10</text><line x1="429" y1="426.07" x2="429" y2="428.68" stroke="#333" stroke-width="1.1"/><line x1="321.43" y1="321.1" x2="324.03" y2="321.1" stroke="#333" stroke-width="1.1"/><text transform="translate(429 437.68) scale(1 1.04)" font-size="10.8" fill="#4d4d4d" text-anchor="middle">0.15</text><text transform="translate(319.73 325.16) scale(1 1.04)" font-size="10.8" fill="#4d4d4d" text-anchor="end">0.15</text><line x1="461.3" y1="426.07" x2="461.3" y2="428.68" stroke="#333" stroke-width="1.1"/><line x1="321.43" y1="288.8" x2="324.03" y2="288.8" stroke="#333" stroke-width="1.1"/><text transform="translate(461.3 437.68) scale(1 1.04)" font-size="10.8" fill="#4d4d4d" text-anchor="middle">0.20</text><text transform="translate(319.73 292.86) scale(1 1.04)" font-size="10.8" fill="#4d4d4d" text-anchor="end">0.20</text><line x1="493.6" y1="426.07" x2="493.6" y2="428.68" stroke="#333" stroke-width="1.1"/><line x1="321.43" y1="256.5" x2="324.03" y2="256.5" stroke="#333" stroke-width="1.1"/><text transform="translate(493.6 437.68) scale(1 1.04)" font-size="10.8" fill="#4d4d4d" text-anchor="middle">0.25</text><text transform="translate(319.73 260.56) scale(1 1.04)" font-size="10.8" fill="#4d4d4d" text-anchor="end">0.25</text><text transform="translate(412.85 451.8) scale(1 1.04)" font-size="13.7" fill="#000" text-anchor="middle">Predicted probabilities</text><line x1="574.42" y1="426.07" x2="752.08" y2="248.43" stroke="#c2c2c2" stroke-width="1.3"/><path d="M586.00 408.00 L588.70 404.50 L592.90 401.20 L597.00 393.70 L602.50 387.90 L609.40 376.40 L618.50 366.40 L631.50 347.10 L650.10 335.00 L697.90 291.90" fill="none" stroke="#0A0AD2" stroke-width="1.9" stroke-dasharray="1.9 4.5" stroke-linejoin="round"/><path d="M585.00 409.50 L590.00 405.50 L595.00 403.00 L599.00 401.00 L605.50 395.50 L611.50 388.00 L621.00 375.50 L633.00 364.50 L650.10 347.10 L674.40 334.50 L737.60 291.90" fill="none" stroke="#0A0AD2" stroke-width="1.9" stroke-dasharray="6.5 4.5" stroke-linejoin="round"/><path d="M585.40 410.20 L590.40 406.10 L595.40 403.60 L599.50 402.00 L606.10 396.20 L611.90 388.80 L621.80 376.70 L633.50 366.50 L650.70 351.50 L674.40 334.50 L723.10 285.30" fill="none" stroke="#0A0AD2" stroke-width="1.9" stroke-linejoin="round"/><path d="M588.7 402.74V406.26M587 402.74H590.4M587 406.26H590.4" stroke="#0A0AD2" stroke-width="1.1" fill="none"/><circle cx="588.7" cy="404.5" r="2.0" fill="#0A0AD2"/><path d="M592.9 399.24V403.16M591.2 399.24H594.6M591.2 403.16H594.6" stroke="#0A0AD2" stroke-width="1.1" fill="none"/><circle cx="592.9" cy="401.2" r="2.0" fill="#0A0AD2"/><path d="M597 391.36V396.04M595.3 391.36H598.7M595.3 396.04H598.7" stroke="#0A0AD2" stroke-width="1.1" fill="none"/><circle cx="597" cy="393.7" r="2.0" fill="#0A0AD2"/><path d="M602.5 385.31V390.49M600.8 385.31H604.2M600.8 390.49H604.2" stroke="#0A0AD2" stroke-width="1.1" fill="none"/><circle cx="602.5" cy="387.9" r="2.0" fill="#0A0AD2"/><path d="M609.4 373.38V379.42M607.7 373.38H611.1M607.7 379.42H611.1" stroke="#0A0AD2" stroke-width="1.1" fill="none"/><circle cx="609.4" cy="376.4" r="2.0" fill="#0A0AD2"/><path d="M618.5 363.07V369.73M616.8 363.07H620.2M616.8 369.73H620.2" stroke="#0A0AD2" stroke-width="1.1" fill="none"/><circle cx="618.5" cy="366.4" r="2.0" fill="#0A0AD2"/><path d="M631.5 343.26V350.94M629.8 343.26H633.2M629.8 350.94H633.2" stroke="#0A0AD2" stroke-width="1.1" fill="none"/><circle cx="631.5" cy="347.1" r="2.0" fill="#0A0AD2"/><path d="M650.1 330.88V339.12M648.4 330.88H651.8M648.4 339.12H651.8" stroke="#0A0AD2" stroke-width="1.1" fill="none"/><circle cx="650.1" cy="335" r="2.0" fill="#0A0AD2"/><path d="M697.9 287.03V296.77M696.2 287.03H699.6M696.2 296.77H699.6" stroke="#0A0AD2" stroke-width="1.1" fill="none"/><circle cx="697.9" cy="291.9" r="2.0" fill="#0A0AD2"/><path d="M650.1 343.26V350.94M648.4 343.26H651.8M648.4 350.94H651.8" stroke="#0A0AD2" stroke-width="1.1" fill="none"/><circle cx="650.1" cy="347.1" r="2.0" fill="#0A0AD2"/><path d="M737.6 287.03V296.77M735.9 287.03H739.3M735.9 296.77H739.3" stroke="#0A0AD2" stroke-width="1.1" fill="none"/><circle cx="737.6" cy="291.9" r="2.0" fill="#0A0AD2"/><path d="M585.4 408.86V411.54M583.7 408.86H587.1M583.7 411.54H587.1" stroke="#0A0AD2" stroke-width="1.1" fill="none"/><circle cx="585.4" cy="410.2" r="2.0" fill="#0A0AD2"/><path d="M590.4 404.45V407.75M588.7 404.45H592.1M588.7 407.75H592.1" stroke="#0A0AD2" stroke-width="1.1" fill="none"/><circle cx="590.4" cy="406.1" r="2.0" fill="#0A0AD2"/><path d="M595.4 401.78V405.42M593.7 401.78H597.1M593.7 405.42H597.1" stroke="#0A0AD2" stroke-width="1.1" fill="none"/><circle cx="595.4" cy="403.6" r="2.0" fill="#0A0AD2"/><path d="M599.5 400.09V403.91M597.8 400.09H601.2M597.8 403.91H601.2" stroke="#0A0AD2" stroke-width="1.1" fill="none"/><circle cx="599.5" cy="402" r="2.0" fill="#0A0AD2"/><path d="M606.1 393.98V398.42M604.4 393.98H607.8M604.4 398.42H607.8" stroke="#0A0AD2" stroke-width="1.1" fill="none"/><circle cx="606.1" cy="396.2" r="2.0" fill="#0A0AD2"/><path d="M611.9 386.25V391.35M610.2 386.25H613.6M610.2 391.35H613.6" stroke="#0A0AD2" stroke-width="1.1" fill="none"/><circle cx="611.9" cy="388.8" r="2.0" fill="#0A0AD2"/><path d="M621.8 373.69V379.71M620.1 373.69H623.5M620.1 379.71H623.5" stroke="#0A0AD2" stroke-width="1.1" fill="none"/><circle cx="621.8" cy="376.7" r="2.0" fill="#0A0AD2"/><path d="M633.5 363.17V369.83M631.8 363.17H635.2M631.8 369.83H635.2" stroke="#0A0AD2" stroke-width="1.1" fill="none"/><circle cx="633.5" cy="366.5" r="2.0" fill="#0A0AD2"/><path d="M650.7 347.76V355.24M649 347.76H652.4M649 355.24H652.4" stroke="#0A0AD2" stroke-width="1.1" fill="none"/><circle cx="650.7" cy="351.5" r="2.0" fill="#0A0AD2"/><path d="M674.4 330.37V338.63M672.7 330.37H676.1M672.7 338.63H676.1" stroke="#0A0AD2" stroke-width="1.1" fill="none"/><circle cx="674.4" cy="334.5" r="2.0" fill="#0A0AD2"/><path d="M723.1 280.33V290.27M721.4 280.33H724.8M721.4 290.27H724.8" stroke="#0A0AD2" stroke-width="1.1" fill="none"/><circle cx="723.1" cy="285.3" r="2.0" fill="#0A0AD2"/><path d="M574.42 248.43V426.07H752.08" stroke="#222" stroke-width="1.0" fill="none"/><line x1="582.5" y1="426.07" x2="582.5" y2="428.68" stroke="#333" stroke-width="1.1"/><line x1="571.82" y1="418" x2="574.42" y2="418" stroke="#333" stroke-width="1.1"/><text transform="translate(582.5 437.68) scale(1 1.04)" font-size="10.8" fill="#4d4d4d" text-anchor="middle">0.00</text><text transform="translate(570.12 422.06) scale(1 1.04)" font-size="10.8" fill="#4d4d4d" text-anchor="end">0.00</text><line x1="614.8" y1="426.07" x2="614.8" y2="428.68" stroke="#333" stroke-width="1.1"/><line x1="571.82" y1="385.7" x2="574.42" y2="385.7" stroke="#333" stroke-width="1.1"/><text transform="translate(614.8 437.68) scale(1 1.04)" font-size="10.8" fill="#4d4d4d" text-anchor="middle">0.05</text><text transform="translate(570.12 389.76) scale(1 1.04)" font-size="10.8" fill="#4d4d4d" text-anchor="end">0.05</text><line x1="647.1" y1="426.07" x2="647.1" y2="428.68" stroke="#333" stroke-width="1.1"/><line x1="571.82" y1="353.4" x2="574.42" y2="353.4" stroke="#333" stroke-width="1.1"/><text transform="translate(647.1 437.68) scale(1 1.04)" font-size="10.8" fill="#4d4d4d" text-anchor="middle">0.10</text><text transform="translate(570.12 357.46) scale(1 1.04)" font-size="10.8" fill="#4d4d4d" text-anchor="end">0.10</text><line x1="679.4" y1="426.07" x2="679.4" y2="428.68" stroke="#333" stroke-width="1.1"/><line x1="571.82" y1="321.1" x2="574.42" y2="321.1" stroke="#333" stroke-width="1.1"/><text transform="translate(679.4 437.68) scale(1 1.04)" font-size="10.8" fill="#4d4d4d" text-anchor="middle">0.15</text><text transform="translate(570.12 325.16) scale(1 1.04)" font-size="10.8" fill="#4d4d4d" text-anchor="end">0.15</text><line x1="711.7" y1="426.07" x2="711.7" y2="428.68" stroke="#333" stroke-width="1.1"/><line x1="571.82" y1="288.8" x2="574.42" y2="288.8" stroke="#333" stroke-width="1.1"/><text transform="translate(711.7 437.68) scale(1 1.04)" font-size="10.8" fill="#4d4d4d" text-anchor="middle">0.20</text><text transform="translate(570.12 292.86) scale(1 1.04)" font-size="10.8" fill="#4d4d4d" text-anchor="end">0.20</text><line x1="744" y1="426.07" x2="744" y2="428.68" stroke="#333" stroke-width="1.1"/><line x1="571.82" y1="256.5" x2="574.42" y2="256.5" stroke="#333" stroke-width="1.1"/><text transform="translate(744 437.68) scale(1 1.04)" font-size="10.8" fill="#4d4d4d" text-anchor="middle">0.25</text><text transform="translate(570.12 260.56) scale(1 1.04)" font-size="10.8" fill="#4d4d4d" text-anchor="end">0.25</text><text transform="translate(663.25 451.8) scale(1 1.04)" font-size="13.7" fill="#000" text-anchor="middle">Predicted probabilities</text><text transform="translate(15.8 112.1) rotate(-90) scale(1 1.04)" font-size="19.2" fill="#000" text-anchor="middle">Women</text><text transform="translate(15.8 342.7) rotate(-90) scale(1 1.04)" font-size="19.2" fill="#000" text-anchor="middle">Men</text><line x1="145" y1="474.6" x2="180" y2="474.6" stroke="#000" stroke-width="1.7" stroke-dasharray="1.7 3.8"/><text transform="translate(186.6 478.5) scale(1 1.04)" font-size="12.2" fill="#000">Original equation</text><line x1="293" y1="474.6" x2="326" y2="474.6" stroke="#000" stroke-width="1.7" stroke-dasharray="6.2 7.2"/><text transform="translate(334.2 478.5) scale(1 1.04)" font-size="12.2" fill="#000">Recalibrated equation</text><line x1="468" y1="474.6" x2="503" y2="474.6" stroke="#000" stroke-width="1.7"/><text transform="translate(509.1 478.5) scale(1 1.04)" font-size="12.2" fill="#000">Re−estimated equation</text></svg></body></html>
